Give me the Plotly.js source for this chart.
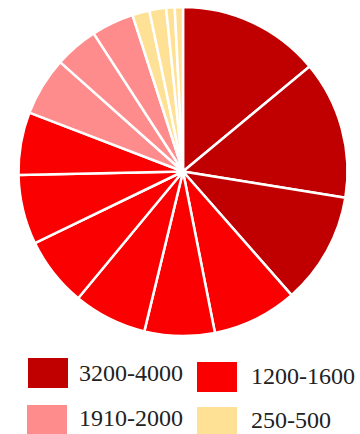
<!DOCTYPE html>
<html>
<head>
<meta charset="utf-8">
<script src="https://cdn.plot.ly/plotly-3.0.1.min.js"></script>
<style>
  html, body { margin: 0; padding: 0; background: #ffffff; }
  #chart { width: 360px; height: 434px; }
</style>
</head>
<body>
<div id="chart"></div>
<script>
// Slice values, clockwise from 12 o'clock
const sliceLabels = ['A1', 'A2', 'A3', 'B1', 'B2', 'B3', 'B4', 'B5', 'B6', 'C1', 'C2', 'C3', 'D1', 'D2', 'D3', 'D4'];
const sliceValues = [50.3, 48.9, 39.5, 30.1, 24.8, 26.0, 24.6, 24.6, 22.2, 20.7, 15.4, 15.0, 6.1, 5.9, 3.0, 2.9];
const sliceGroups = [0, 0, 0, 1, 1, 1, 1, 1, 1, 2, 2, 2, 3, 3, 3, 3];

// Legend groups
const groupNames = ['3200-4000', '1200-1600', '1910-2000', '250-500'];
const groupColors = ['#c00000', '#fa0000', '#ff8c8c', '#ffe196'];

const W = 360, H = 434;

const trace = {
  type: 'pie',
  labels: sliceLabels,
  values: sliceValues,
  sort: false,
  direction: 'clockwise',
  rotation: 0,
  textinfo: 'none',
  hoverinfo: 'label+value',
  marker: {
    colors: sliceGroups.map(g => groupColors[g]),
    line: { color: '#ffffff', width: 2.5 }
  },
  domain: { x: [18 / W, 348 / W], y: [98 / H, 427 / H] },
  showlegend: false
};

// Custom legend: 2 x 2 grid of swatches with labels
const legendPos = [
  { bx: 28, by: 358, tx: 77, ty: 373 },
  { bx: 197, by: 362, tx: 249, ty: 376 },
  { bx: 27, by: 405, tx: 77, ty: 418 },
  { bx: 197, by: 407, tx: 249, ty: 420 }
];

const shapes = legendPos.map((p, i) => ({
  type: 'rect', xref: 'paper', yref: 'paper',
  x0: p.bx / W, x1: (p.bx + 40) / W,
  y0: 1 - (p.by + 30) / H, y1: 1 - p.by / H,
  fillcolor: groupColors[i],
  line: { width: 0 }
}));

const annotations = legendPos.map((p, i) => ({
  xref: 'paper', yref: 'paper',
  x: p.tx / W, y: 1 - p.ty / H,
  xanchor: 'left', yanchor: 'middle',
  text: groupNames[i],
  showarrow: false,
  font: { family: 'Liberation Serif, serif', size: 24, color: '#222222' }
}));

const layout = {
  width: W, height: H,
  margin: { l: 0, r: 0, t: 0, b: 0 },
  paper_bgcolor: '#ffffff',
  plot_bgcolor: '#ffffff',
  shapes: shapes,
  annotations: annotations
};

Plotly.newPlot('chart', [trace], layout, { displayModeBar: false, staticPlot: true });
</script>
</body>
</html>
